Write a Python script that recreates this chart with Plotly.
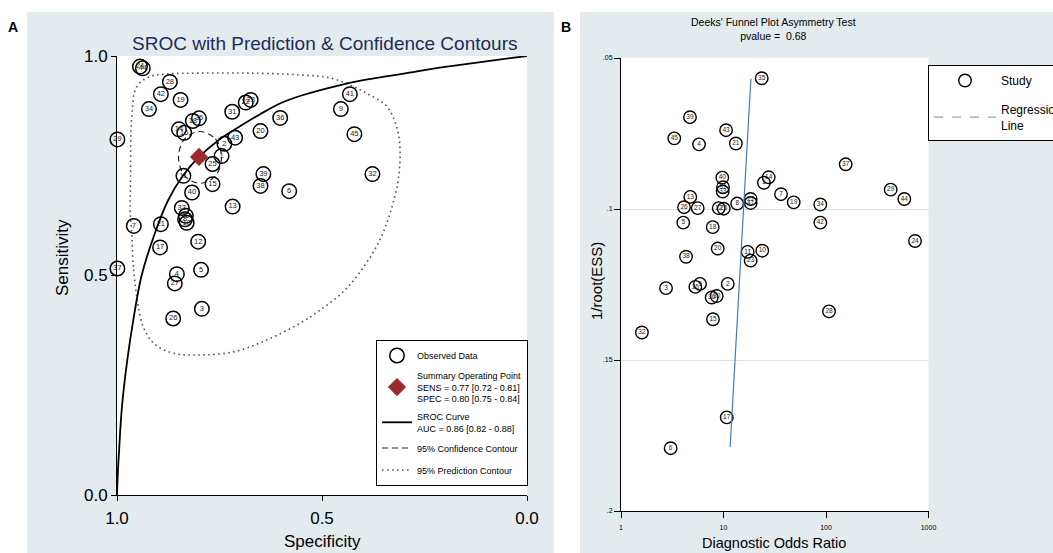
import plotly.graph_objects as go

W, H = 1053, 553
FONT = "Liberation Sans, Arial, sans-serif"

# ---------------- Panel A data (SROC) ----------------
labels_a = [24, 44, 28, 42, 19, 34, 22, 23, 31, 36, 35, 18, 14, 16, 20, 43, 2, 1, 25, 11,
            15, 39, 38, 6, 40, 13, 29, 33, 30, 10, 8, 7, 21, 12, 17, 37, 5, 4, 27, 3,
            26, 41, 9, 45, 32]
spec_a = [0.944, 0.937, 0.871, 0.893, 0.845, 0.922, 0.686, 0.674, 0.719, 0.602,
          0.800, 0.815, 0.849, 0.836, 0.650, 0.712, 0.738, 0.745, 0.767, 0.838,
          0.767, 0.643, 0.650, 0.580, 0.817, 0.718, 0.999, 0.842, 0.832, 0.830,
          0.834, 0.959, 0.893, 0.802, 0.895, 0.999, 0.795, 0.854, 0.859, 0.793,
          0.863, 0.432, 0.454, 0.421, 0.377]
sens_a = [0.976, 0.972, 0.941, 0.913, 0.900, 0.879, 0.894, 0.900, 0.873, 0.859,
          0.858, 0.852, 0.833, 0.825, 0.829, 0.814, 0.800, 0.772, 0.754, 0.727,
          0.708, 0.731, 0.704, 0.692, 0.689, 0.657, 0.810, 0.654, 0.636, 0.620,
          0.628, 0.613, 0.617, 0.577, 0.564, 0.516, 0.513, 0.503, 0.482, 0.424,
          0.402, 0.913, 0.879, 0.822, 0.731]

summary_spec = [0.80]
summary_sens = [0.77]

sroc_spec = [1.0, 0.998, 0.995, 0.988, 0.976, 0.96, 0.94, 0.91, 0.875, 0.838, 0.80,
             0.75, 0.70, 0.65, 0.60, 0.55, 0.45, 0.38, 0.30, 0.20, 0.10, 0.0]
sroc_sens = [0.0, 0.05, 0.10, 0.20, 0.30, 0.40, 0.50, 0.59, 0.672, 0.729, 0.77,
             0.81, 0.84, 0.868, 0.893, 0.91, 0.935, 0.948, 0.96, 0.975, 0.988, 1.0]

conf_spec = [0.798, 0.760, 0.745, 0.760, 0.798, 0.835, 0.850, 0.835, 0.798]
conf_sens = [0.828, 0.811, 0.770, 0.727, 0.710, 0.727, 0.770, 0.811, 0.828]

pred_spec = [0.952, 0.960, 0.964, 0.968, 0.967, 0.964, 0.952, 0.920, 0.879, 0.798,
             0.676, 0.554, 0.480, 0.432, 0.391, 0.342, 0.318, 0.310, 0.314, 0.334,
             0.359, 0.395, 0.444, 0.505, 0.554, 0.635, 0.716, 0.798, 0.863, 0.911,
             0.936, 0.948, 0.952]
pred_sens = [0.452, 0.520, 0.596, 0.649, 0.710, 0.862, 0.930, 0.953, 0.959, 0.961,
             0.961, 0.957, 0.950, 0.934, 0.915, 0.885, 0.839, 0.793, 0.718, 0.642,
             0.581, 0.524, 0.467, 0.421, 0.391, 0.353, 0.326, 0.319, 0.323, 0.346,
             0.383, 0.429, 0.452]

a_ticks = [1.0, 0.5, 0.0]

# ---------------- Panel B data (Deeks) ----------------
labels_b = [35, 39, 45, 4, 43, 21, 40, 31, 33, 14, 1, 7, 19, 34, 42, 8, 22, 41, 13, 26,
            27, 5, 18, 12, 25, 20, 11, 23, 10, 38, 3, 16, 9, 2, 36, 30, 15, 32, 17, 6,
            37, 29, 44, 24, 28]
dor_b = [23.6, 4.71, 3.31, 5.77, 10.6, 13.2, 9.73, 9.89, 9.82, 27.6,
         24.8, 36.4, 48.4, 88.0, 88.0, 13.6, 18.4, 18.4, 4.74, 4.12,
         5.60, 4.05, 7.85, 8.98, 10.05, 8.78, 17.2, 18.4, 23.9, 4.31,
         2.75, 5.31, 5.90, 11.0, 7.67, 8.58, 7.90, 1.60, 10.75, 3.05,
         155.6, 427.7, 580.7, 738.5, 107.0]
ess_b = [0.0567, 0.0696, 0.0766, 0.0786, 0.0739, 0.0783, 0.0896, 0.0928, 0.0942, 0.0895,
         0.0913, 0.0951, 0.0978, 0.0985, 0.1045, 0.0982, 0.0967, 0.0980, 0.0960, 0.0994,
         0.0997, 0.1045, 0.1060, 0.0997, 0.0999, 0.1131, 0.1142, 0.1171, 0.1138, 0.1158,
         0.1262, 0.1258, 0.1248, 0.1248, 0.1293, 0.1288, 0.1365, 0.1409, 0.1690, 0.1792,
         0.0852, 0.0936, 0.0967, 0.1106, 0.1339]

reg_dor = [18.5, 11.6]
reg_ess = [0.0569, 0.1789]

b_xticks = [1, 10, 100, 1000]
b_xtext = ["1", "10", "100", "1000"]
b_yticks = [0.05, 0.10, 0.15, 0.20]
b_ytext = [".05", ".1", ".15", ".2"]

PANEL_BG = "#e3ebef"
NAVY = "#1f2b5c"
RED = "#9c2b2d"

fig = go.Figure()

# Panel A traces
fig.add_trace(go.Scatter(
    x=pred_spec, y=pred_sens, mode="lines", name="95% Prediction Contour",
    line=dict(color="#555555", width=1.6, dash="1.6px,3.4px", shape="spline"),
    xaxis="x", yaxis="y", legend="legend", legendgroup="g5", legendrank=5, hoverinfo="skip"))
fig.add_trace(go.Scatter(
    x=conf_spec, y=conf_sens, mode="lines", name="95% Confidence Contour",
    line=dict(color="#222222", width=1.2, dash="6px,4px", shape="spline"),
    xaxis="x", yaxis="y", legend="legend", legendgroup="g4", legendrank=4, hoverinfo="skip"))
fig.add_trace(go.Scatter(
    x=spec_a, y=sens_a, mode="markers", name="Observed Data",
    marker=dict(symbol="circle-open", size=14.5, color="black", line=dict(width=1.5)),
    cliponaxis=False, xaxis="x", yaxis="y", legend="legend", legendgroup="g1", legendrank=1))
fig.add_trace(go.Scatter(
    x=spec_a, y=sens_a, mode="text", text=[str(v) for v in labels_a],
    textposition="middle center", textfont=dict(size=7.5, color="#222", family=FONT),
    cliponaxis=False, showlegend=False, xaxis="x", yaxis="y", hoverinfo="skip"))
fig.add_trace(go.Scatter(
    x=sroc_spec, y=sroc_sens, mode="lines",
    name="SROC Curve<br>AUC = 0.86 [0.82 - 0.88]",
    line=dict(color="black", width=1.8, shape="spline"),
    xaxis="x", yaxis="y", legend="legend", legendgroup="g3", legendrank=3, hoverinfo="skip"))
fig.add_trace(go.Scatter(
    x=summary_spec, y=summary_sens, mode="markers",
    name="Summary Operating Point<br>SENS = 0.77 [0.72 - 0.81]<br>SPEC = 0.80 [0.75 - 0.84]",
    marker=dict(symbol="diamond", size=14, color=RED),
    xaxis="x", yaxis="y", legend="legend", legendgroup="g2", legendrank=2))

# Panel B traces
fig.add_trace(go.Scatter(
    x=dor_b, y=ess_b, mode="markers", name="Study",
    marker=dict(symbol="circle-open", size=12.5, color="black", line=dict(width=1.4)),
    cliponaxis=False, xaxis="x2", yaxis="y2", legend="legend2", legendgroup="h1", legendrank=1))
fig.add_trace(go.Scatter(
    x=dor_b, y=ess_b, mode="text", text=[str(v) for v in labels_b],
    textposition="middle center", textfont=dict(size=6.5, color="#222", family=FONT),
    cliponaxis=False, showlegend=False, xaxis="x2", yaxis="y2", hoverinfo="skip"))
fig.add_trace(go.Scatter(
    x=reg_dor, y=reg_ess, mode="lines", showlegend=False,
    line=dict(color="#4a7ab5", width=1.2), xaxis="x2", yaxis="y2", hoverinfo="skip"))
fig.add_trace(go.Scatter(
    x=[None], y=[None], mode="lines", name="Regression<br>Line",
    line=dict(color="#8ba7c7", width=1.3, dash="dash"),
    xaxis="x2", yaxis="y2", legend="legend2", legendgroup="h2", legendrank=2))

axis_common = dict(showline=True, linecolor="black", linewidth=1, ticks="outside",
                   tickcolor="black", zeroline=False, fixedrange=True)

shapes = [
    dict(type="rect", xref="paper", yref="paper", x0=27 / W, x1=554 / W, y0=0, y1=1 - 12 / H,
         fillcolor=PANEL_BG, line=dict(width=0), layer="below"),
    dict(type="rect", xref="paper", yref="paper", x0=580 / W, x1=1, y0=0, y1=1 - 12 / H,
         fillcolor=PANEL_BG, line=dict(width=0), layer="below"),
    dict(type="rect", xref="x domain", yref="y domain", x0=0, x1=1, y0=0, y1=1,
         fillcolor="white", line=dict(width=0), layer="below"),
    dict(type="rect", xref="x2 domain", yref="y2 domain", x0=0, x1=1, y0=0, y1=1,
         fillcolor="white", line=dict(width=0), layer="below"),
]

def ann(text, px, py, size, color="black", bold=False, angle=0, xanchor="center"):
    return dict(text=("<b>%s</b>" % text) if bold else text, x=px / W, y=1 - py / H,
                xref="paper", yref="paper", showarrow=False, xanchor=xanchor, yanchor="middle",
                textangle=angle, font=dict(size=size, color=color, family=FONT))

annotations = [
    ann("A", 13, 27, 14, bold=True),
    ann("B", 566, 27, 14, bold=True),
    ann("SROC with Prediction &amp; Confidence Contours", 324, 43, 19, color=NAVY),
    ann("Sensitivity", 62, 258, 17, angle=-90),
    ann("Specificity", 322, 541, 17),
    ann("Deeks' Funnel Plot Asymmetry Test<br>pvalue =&nbsp;&nbsp;0.68", 773, 29, 10.5),
    ann("1/root(ESS)", 596, 281, 15, angle=-90),
    ann("Diagnostic Odds Ratio", 774, 543, 14.5),
]

fig.update_layout(
    width=W, height=H,
    margin=dict(l=0, r=0, t=0, b=0, autoexpand=False),
    paper_bgcolor="white", plot_bgcolor="white",
    font=dict(family=FONT, color="black"),
    xaxis=dict(domain=[117 / W, 527 / W], range=[1, 0], tickvals=a_ticks, tickformat=".1f",
               ticklen=5, ticklabelstandoff=3, tickfont=dict(size=17), showgrid=False,
               anchor="y", **axis_common),
    yaxis=dict(domain=[1 - 495 / H, 1 - 56 / H], range=[0, 1], tickvals=a_ticks, tickformat=".1f",
               ticklen=5, tickfont=dict(size=17), showgrid=False, anchor="x", **axis_common),
    xaxis2=dict(domain=[621 / W, 928.5 / W], type="log", range=[0, 3], tickvals=b_xticks,
                ticktext=b_xtext, ticklen=6, ticklabelstandoff=4, tickfont=dict(size=7),
                showgrid=False, anchor="y2", **axis_common),
    yaxis2=dict(domain=[1 - 511 / H, 1 - 58 / H], range=[0.2, 0.05], tickvals=b_yticks,
                ticktext=b_ytext, ticklen=6, tickfont=dict(size=7), showgrid=True,
                gridcolor="#d6e3ea", gridwidth=1, anchor="x2", **axis_common),
    legend=dict(x=376 / W, y=1 - 340 / H, xanchor="left", yanchor="top", bgcolor="white",
                bordercolor="black", borderwidth=1, font=dict(size=9, family=FONT),
                itemwidth=30, traceorder="grouped", tracegroupgap=3),
    legend2=dict(x=928 / W, y=1 - 65 / H, xanchor="left", yanchor="top", bgcolor="white",
                 bordercolor="black", borderwidth=1, font=dict(size=12, family=FONT),
                 itemwidth=62, traceorder="grouped", tracegroupgap=10),
    shapes=shapes,
    annotations=annotations,
    showlegend=True,
)

fig.write_html("out.html")
